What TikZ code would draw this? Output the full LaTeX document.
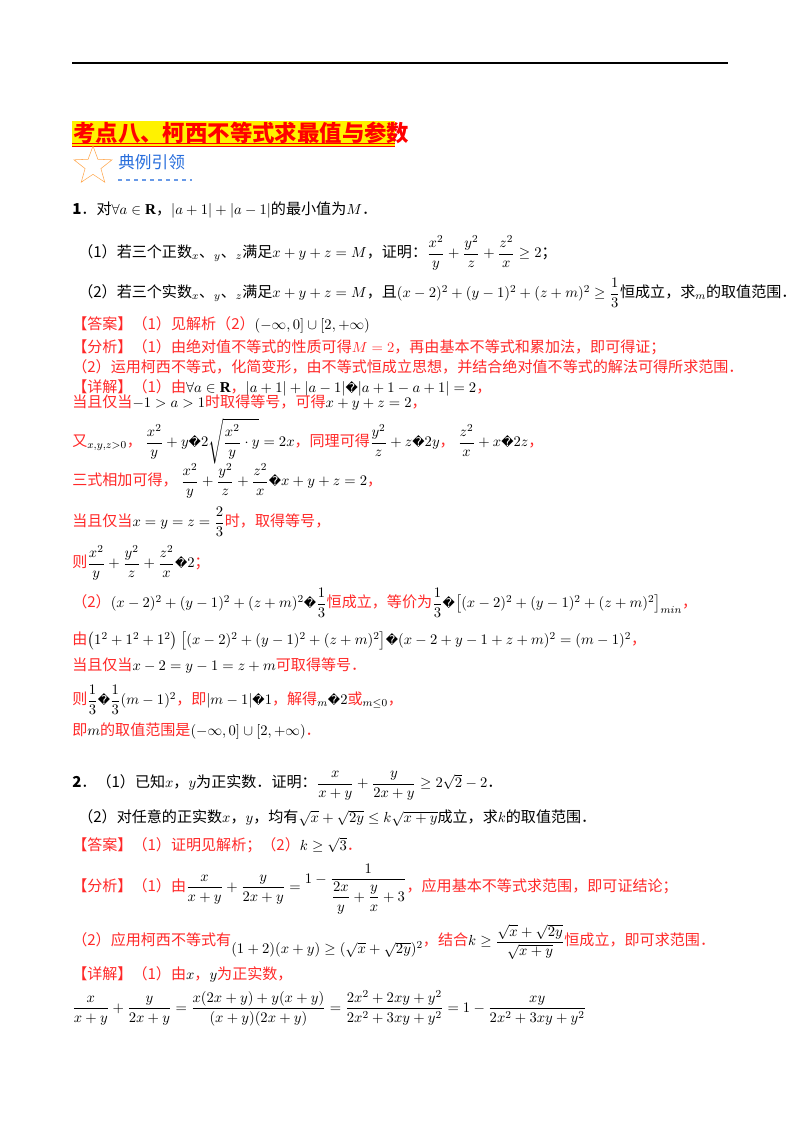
\documentclass[tikz,border=0pt]{standalone}
\usepackage{amsmath,amssymb}
\usepackage{fontspec}
\setmainfont{Liberation Serif}
\newfontfamily\cjk{Noto Sans CJK SC}
\newfontfamily\dv{DejaVu Sans}
\usetikzlibrary{shapes.geometric}
\definecolor{rd}{RGB}{255,40,40}
\definecolor{bl}{RGB}{40,110,220}
\newcommand{\rd}[1]{\textcolor{rd}{#1}}
\newcommand{\qq}{{\dv\small\char"FFFD}}
\begin{document}
\begin{tikzpicture}[x=0.75pt,y=-0.75pt,
  ln/.style={anchor=west,inner sep=0pt,font=\fontsize{11.3}{13}\selectfont\cjk}]
\useasboundingbox (0,0) rectangle (800,1132);
\draw[line width=0.8pt] (72,63) -- (728,63);
\fill[yellow] (72,121) rectangle (395,147);
\node[ln,text=red,font=\fontsize{16.8}{19}\selectfont\cjk\bfseries] (h) at (73,133) {考点八、柯西不等式求最值与参数};
\draw[red,line width=0.8pt] (72,143.5) -- (395,143.5);
\draw[red,line width=0.6pt] (72,146) -- (395,146);
\node[star,star points=5,star point ratio=2.4,draw=orange!70,minimum size=30pt,inner sep=0pt] (st) at (93,166) {};
\node[ln,text=bl,font=\fontsize{12.5}{14}\selectfont\cjk] (d) at (118,162) {典例引领};
\draw[bl!70,dashed,line width=1.2pt] (118,180) -- (192,180);
\node[ln] (l1) at (72,210) {\textbf{1}．对$\forall a\in\mathbf R$，$|a+1|+|a-1|$的最小值为$M$．};
\node[ln] (l2) at (78,253) {（1）若三个正数$_x$、$_y$、$_z$满足$x+y+z=M$，证明：$\dfrac{x^2}{y}+\dfrac{y^2}{z}+\dfrac{z^2}{x}\ge2$；};
\node[ln] (l3) at (78,293) {（2）若三个实数$_x$、$_y$、$_z$满足$x+y+z=M$，且$(x-2)^2+(y-1)^2+(z+m)^2\ge\dfrac13$恒成立，求$_m$的取值范围．};
\node[ln] (l4) at (72,325) {\rd{【答案】（1）见解析（2）}$(-\infty,0]\cup[2,+\infty)$};
\node[ln,text=rd] (l5) at (72,347) {【分析】（1）由绝对值不等式的性质可得$M=2$，再由基本不等式和累加法，即可得证；};
\node[ln,text=rd] (l6) at (72,367) {（2）运用柯西不等式，化简变形，由不等式恒成立思想，并结合绝对值不等式的解法可得所求范围．};
\node[ln] (l7) at (72,388) {\rd{【详解】（1）由}$\forall a\in\mathbf R$\rd{，}$|a+1|+|a-1|$\qq$|a+1-a+1|=2$\rd{，}};
\node[ln] (l8) at (72,403) {\rd{当且仅当}$-1>a>1$\rd{时取得等号，可得}$x+y+z=2$\rd{，}};
\node[ln] (l9) at (72,441) {\rd{又}$_{x,y,z>0}$\rd{，}\ $\dfrac{x^2}{y}+y$\qq$2\sqrt{\dfrac{x^2}{y}\cdot y}=2x$\rd{，同理可得}$\dfrac{y^2}{z}+z$\qq$2y$\rd{，}\ $\dfrac{z^2}{x}+x$\qq$2z$\rd{，}};
\node[ln] (l10) at (72,481) {\rd{三式相加可得，}\ $\dfrac{x^2}{y}+\dfrac{y^2}{z}+\dfrac{z^2}{x}$\qq$x+y+z=2$\rd{，}};
\node[ln] (l11) at (72,522) {\rd{当且仅当}$x=y=z=\dfrac23$\rd{时，取得等号，}};
\node[ln] (l12) at (72,563) {\rd{则}$\dfrac{x^2}{y}+\dfrac{y^2}{z}+\dfrac{z^2}{x}$\qq$2$\rd{；}};
\node[ln] (l13) at (72,603) {\rd{（2）}$(x-2)^2+(y-1)^2+(z+m)^2$\qq$\dfrac13$\rd{恒成立，等价为}$\dfrac13$\qq$\left[(x-2)^2+(y-1)^2+(z+m)^2\right]_{min}$\rd{，}};
\node[ln] (l14) at (72,641) {\rd{由}$\left(1^2+1^2+1^2\right)\left[(x-2)^2+(y-1)^2+(z+m)^2\right]$\qq$(x-2+y-1+z+m)^2=(m-1)^2$\rd{，}};
\node[ln] (l15) at (72,666) {\rd{当且仅当}$x-2=y-1=z+m$\rd{可取得等号．}};
\node[ln] (l16) at (72,700) {\rd{则}$\dfrac13$\qq$\dfrac13(m-1)^2$\rd{，即}$|m-1|$\qq$1$\rd{，解得}$_m$\qq$2$\rd{或}$_{m\le0}$\rd{，}};
\node[ln] (l17) at (72,731) {\rd{即}$m$\rd{的取值范围是}$(-\infty,0]\cup[2,+\infty)$\rd{．}};
\node[ln] (l18) at (72,786) {\textbf{2}．（1）已知$x$，$y$为正实数．证明：$\dfrac{x}{x+y}+\dfrac{y}{2x+y}\ge2\sqrt2-2$．};
\node[ln] (l19) at (78,818) {（2）对任意的正实数$x$，$y$，均有$\sqrt x+\sqrt{2y}\le k\sqrt{x+y}$成立，求$k$的取值范围．};
\node[ln] (l20) at (72,845) {\rd{【答案】（1）证明见解析；（2）}$k\ge\sqrt3$\rd{．}};
\node[ln] (l21) at (72,889) {\rd{【分析】（1）由}$\dfrac{x}{x+y}+\dfrac{y}{2x+y}=\raisebox{6pt}{$1-\dfrac{1}{\dfrac{2x}{y}+\dfrac{y}{x}+3}$}$\rd{，应用基本不等式求范围，即可证结论；}};
\node[ln] (l22) at (72,942) {\rd{（2）应用柯西不等式有}\raisebox{-6pt}{$(1+2)(x+y)\ge(\sqrt x+\sqrt{2y})^2$}\rd{，结合}$k\ge\dfrac{\sqrt x+\sqrt{2y}}{\sqrt{x+y}}$\rd{恒成立，即可求范围．}};
\node[ln] (l23) at (72,974) {\rd{【详解】（1）由}$x$\rd{，}$y$\rd{为正实数，}};
\node[ln] (l24) at (72,1008) {$\dfrac{x}{x+y}+\dfrac{y}{2x+y}=\dfrac{x(2x+y)+y(x+y)}{(x+y)(2x+y)}=\dfrac{2x^2+2xy+y^2}{2x^2+3xy+y^2}=1-\dfrac{xy}{2x^2+3xy+y^2}$};
\end{tikzpicture}
\end{document}
